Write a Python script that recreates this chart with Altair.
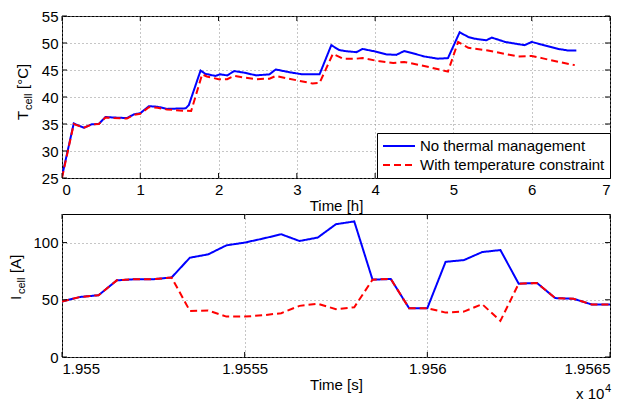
import altair as alt
import pandas as pd

SERIES = ["No thermal management", "With temperature constraint"]

# ---- Top panel: cell temperature [°C] vs time [h] ----
h_blue = [0.0, 0.15, 0.28, 0.38, 0.47, 0.555, 0.66, 0.83, 0.92, 1.0, 1.11, 1.22, 1.34,
          1.58, 1.62, 1.77, 1.83, 1.96, 2.02, 2.11, 2.2, 2.33, 2.48, 2.65, 2.73, 2.90,
          3.07, 3.29, 3.44, 3.54, 3.62, 3.76, 3.84, 4.01, 4.14, 4.27, 4.37, 4.48, 4.63,
          4.80, 4.93, 5.08, 5.19, 5.27, 5.42, 5.49, 5.66, 5.78, 5.91, 6.0, 6.13, 6.34,
          6.47, 6.57]
T_blue = [25.3, 35.1, 34.3, 34.95, 35.0, 36.3, 36.2, 36.1, 36.8, 37.0, 38.3, 38.2, 37.8,
          37.9, 38.5, 44.9, 44.3, 43.9, 44.2, 44.0, 44.8, 44.5, 44.0, 44.2, 45.1, 44.6,
          44.2, 44.2, 49.6, 48.7, 48.5, 48.3, 48.9, 48.4, 47.9, 47.8, 48.5, 48.1, 47.5,
          47.1, 47.2, 52.0, 51.1, 50.8, 50.5, 51.0, 50.2, 49.9, 49.6, 50.2, 49.7, 48.9,
          48.6, 48.6]
h_red = [0.0, 0.15, 0.28, 0.38, 0.47, 0.555, 0.66, 0.83, 0.92, 1.0, 1.11, 1.22, 1.34,
         1.5, 1.65, 1.79, 1.85, 2.0, 2.11, 2.2, 2.33, 2.48, 2.65, 2.73, 3.03, 3.20, 3.29,
         3.46, 3.59, 3.76, 3.84, 4.06, 4.23, 4.37, 4.57, 4.70, 4.93, 5.06, 5.19, 5.44,
         5.83, 6.0, 6.13, 6.34, 6.55]
T_red = [25.0, 35.0, 34.3, 34.9, 35.0, 36.2, 36.1, 36.0, 36.7, 36.9, 38.1, 38.0, 37.7,
         37.5, 37.4, 44.2, 43.8, 43.3, 43.3, 43.9, 43.6, 43.3, 43.4, 43.9, 43.0, 42.5, 42.6,
         48.0, 47.1, 47.1, 47.2, 46.6, 46.3, 46.5, 45.9, 45.5, 44.7, 50.2, 49.1, 48.6,
         47.5, 47.6, 47.2, 46.5, 45.9]

# ---- Bottom panel: cell current [A] vs time [s] ----
t_s = [19550.0, 19550.5, 19551.0, 19551.5, 19552.0, 19552.5, 19553.0, 19553.5, 19554.0,
       19554.5, 19555.0, 19555.5, 19556.0, 19556.5, 19557.0, 19557.5, 19558.0, 19558.5,
       19559.0, 19559.5, 19560.0, 19560.5, 19561.0, 19561.5, 19562.0, 19562.5, 19563.0,
       19563.5, 19564.0, 19564.5, 19565.0]
I_blue = [48.5, 52.5, 54.0, 67.0, 68.0, 68.0, 69.5, 86.8, 89.7, 97.6, 100.0, 103.5, 107.3,
          101.4, 104.4, 116.1, 118.5, 67.6, 68.2, 42.7, 42.7, 83.2, 84.7, 91.7, 93.5, 64.1,
          64.7, 51.5, 50.9, 45.9, 45.9]
I_red = [48.5, 52.5, 54.0, 67.0, 68.0, 68.0, 69.5, 40.3, 40.6, 35.3, 35.3, 36.5, 38.3,
         44.7, 46.5, 41.8, 43.5, 67.6, 68.2, 42.7, 42.7, 38.8, 39.7, 46.2, 31.5, 64.1,
         64.7, 51.5, 50.9, 45.9, 45.9]

# tick values
x_top_ticks = [0, 1, 2, 3, 4, 5, 6, 7]
y_top_ticks = [25, 30, 35, 40, 45, 50, 55]
x_bot_ticks = [19550, 19555, 19560, 19565]
y_bot_ticks = [0, 50, 100]

FONT = "Liberation Sans"
FS = 15
W, H1, H2 = 548, 162, 143
TK = 5

color_scale = alt.Scale(domain=SERIES, range=["#0000ff", "#ff0000"])
dash_scale = alt.Scale(domain=SERIES, range=[[1, 0], [7, 4]])

top_df = pd.DataFrame({
    "x": h_blue + h_red,
    "y": T_blue + T_red,
    "series": [SERIES[0]] * len(h_blue) + [SERIES[1]] * len(h_red),
})
bot_df = pd.DataFrame({
    "x": t_s + t_s,
    "y": I_blue + I_red,
    "series": [SERIES[0]] * len(t_s) + [SERIES[1]] * len(t_s),
})


def label(text, x, y, size=FS, angle=270):
    return alt.Chart(pd.DataFrame({"label": [text]})).mark_text(
        angle=angle, align="left", baseline="alphabetic", font=FONT,
        fontSize=size, color="black"
    ).encode(text="label:N", x=alt.value(x), y=alt.value(y))


def panel(df, xdom, ydom, xticks, yticks, xtitle, h, legend, labelexpr=None, ylabels=None):
    ax_kwargs = dict(values=xticks, title=xtitle, titlePadding=1)
    if labelexpr:
        ax_kwargs["labelExpr"] = labelexpr
    X = alt.X("x:Q", scale=alt.Scale(domain=xdom, nice=False, zero=False),
              axis=alt.Axis(**ax_kwargs))
    Y = alt.Y("y:Q", scale=alt.Scale(domain=ydom, nice=False, zero=False),
              axis=alt.Axis(values=yticks, title=None))
    if legend:
        lg = alt.Legend(title=None, orient="bottom-right", offset=0, fillColor="white",
                        strokeColor="black", padding=5, symbolType="stroke",
                        symbolSize=1024, symbolStrokeWidth=2, labelFont=FONT,
                        labelFontSize=FS, labelColor="black", rowPadding=3,
                        labelOffset=4, symbolOpacity=1, clipHeight=16, labelLimit=300)
        col = alt.Color("series:N", scale=color_scale, legend=lg)
        dash = alt.StrokeDash("series:N", scale=dash_scale, legend=lg)
    else:
        col = alt.Color("series:N", scale=color_scale, legend=None)
        dash = alt.StrokeDash("series:N", scale=dash_scale, legend=None)

    lines = alt.Chart(df).mark_line(strokeWidth=2, clip=True).encode(
        x=X, y=Y, color=col, strokeDash=dash)

    xt = pd.DataFrame({"x": xticks})
    yt = pd.DataFrame({"y": yticks})
    xb = alt.Chart(xt).mark_rule(color="black").encode(x=X, y=alt.value(h), y2=alt.value(h - TK))
    xtp = alt.Chart(xt).mark_rule(color="black").encode(x=X, y=alt.value(0), y2=alt.value(TK))
    yl = alt.Chart(yt).mark_rule(color="black").encode(y=Y, x=alt.value(0), x2=alt.value(TK))
    yr = alt.Chart(yt).mark_rule(color="black").encode(y=Y, x=alt.value(W), x2=alt.value(W - TK))
    return alt.layer(lines, xb, xtp, yl, yr, *(ylabels or [])).properties(width=W, height=h)


top = panel(top_df, [0, 7], [25, 55], x_top_ticks, y_top_ticks, "Time [h]", H1, True,
            ylabels=[label("T", -34, 104), label("cell", -30, 94, size=11),
                     label("[°C]", -34, 73)])
bottom = panel(bot_df, [19550, 19565], [0, 125], x_bot_ticks, y_bot_ticks, "Time [s]", H2,
               False, labelexpr="format(datum.value / 10000, '.5~f')",
               ylabels=[label("I", -41, 86), label("cell", -37, 80, size=11),
                        label("[A]", -41, 59),
                        label("x 10", 514, 185, angle=0),
                        label("4", 543, 178, size=11, angle=0)])

chart = alt.vconcat(top, bottom, spacing=36, bounds="flush").resolve_scale(
    color="independent", strokeDash="independent", x="independent", y="independent"
).properties(
    padding={"left": 0, "top": 0, "right": 0, "bottom": 0},
    background="white",
).configure_view(
    stroke="black", strokeWidth=1
).configure_axis(
    labelFont=FONT, labelFontSize=FS, labelColor="black", labelPadding=4,
    titleFont=FONT, titleFontSize=FS, titleFontWeight="normal", titleColor="black",
    domain=False, ticks=False, grid=True, gridColor="#8c8c8c", gridDash=[1, 3],
    gridWidth=1, gridOpacity=1,
)

chart.save("out.html", embed_options={"renderer": "svg", "actions": False})
